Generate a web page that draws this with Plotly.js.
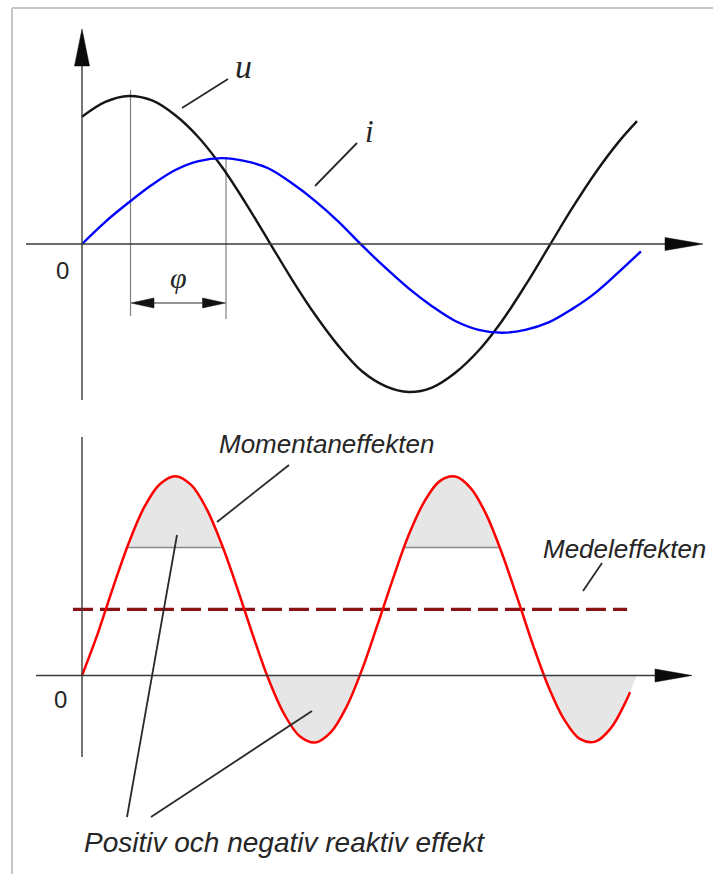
<!DOCTYPE html>
<html>
<head>
<meta charset="utf-8">
<script src="https://cdn.plot.ly/plotly-3.0.1.min.js"></script>
<style>
  html, body { margin: 0; padding: 0; background: #ffffff; }
  #chart { width: 713px; height: 874px; }
</style>
</head>
<body>
<div id="chart"></div>
<script>
// ---------------- data ----------------
// phase angle (degrees of the voltage period) and voltage u
const tU = [0, 15, 30, 45, 60, 75, 90, 105, 120, 135, 150, 165, 180, 195, 210, 225, 240, 255, 270, 285, 300, 315, 330, 345, 356.8];
const uVals = [86, 96, 100, 97, 87, 72, 52, 28, 2, -24, -48, -69, -86, -96, -100, -97, -87, -72, -52, -28, -2, 24, 48, 69, 83];

// current i
const tI = [0, 15, 30, 45, 60, 75, 90, 105, 120, 135, 150, 165, 180, 195, 210, 225, 240, 255, 270, 285, 300, 315, 330, 345, 359.3];
const iVals = [0, 15, 28, 40, 50, 56, 58, 56, 51, 41, 29, 15, -1, -16, -30, -42, -52, -58, -60, -58, -53, -44, -33, -19, -5];

// instantaneous power p (Momentaneffekten)
const tP = [0, 10, 20, 30, 40, 50, 60, 70, 80, 90, 100, 110, 120, 130, 140, 150, 160, 170, 180, 190, 200, 210, 220, 230, 240, 250, 260, 270, 280, 290, 300, 310, 320, 330, 340, 350, 352.3];
const pVals = [0, 9.2, 19.6, 29.4, 37.4, 42.5, 44.3, 42.4, 37.1, 29.0, 19.2, 8.8, -0.9, -8.6, -13.5, -14.9, -12.6, -7.0, 1.3, 11.3, 21.6, 31.2, 38.6, 43.2, 44.2, 41.6, 35.7, 27.1, 17.1, 6.7, -2.6, -9.8, -14.1, -14.7, -11.7, -5.5, -3.7];

// mean power (Medeleffekten)
const pMean = 14.7;
const meanSpan = [-5.8, 350.4];

// zero crossings of p and the shaded caps of the positive lobes
const pZeroCrossings = [0, 119.0, 178.6, 297.0, 356.6];
const capLevel = 28.44;
const capStarts = [29.0, 206.4];
const capEnds = [90.6, 268.0];

// ---------------- geometry helpers (pixel position -> axis units) ----------------
const PXT = 560 / 360, X0 = 82;
const TOP_ZERO = 244, TOP_SCALE = 1.48;
const BOT_ZERO = 675.5, BOT_SCALE = 4.5;
function tx(px) { return (px - X0) / PXT; }
function ty1(py) { return (TOP_ZERO - py) / TOP_SCALE; }
function ty2(py) { return (BOT_ZERO - py) / BOT_SCALE; }

const AXIS_COL = '#3a3a3a';
const LEAD_COL = '#2a2a2a';
const TEXT_COL = '#262626';
const FILL_COL = '#e6e6e6';

// ---------------- traces ----------------
const traces = [];

// top panel: u and i
traces.push({
  x: tU, y: uVals, xaxis: 'x', yaxis: 'y', type: 'scatter', mode: 'lines',
  line: { color: '#151515', width: 2.4, shape: 'spline' }, hoverinfo: 'skip'
});
traces.push({
  x: tI, y: iVals, xaxis: 'x', yaxis: 'y', type: 'scatter', mode: 'lines',
  line: { color: '#0000ff', width: 2.4, shape: 'spline' }, hoverinfo: 'skip'
});

// bottom panel: shaded negative lobes
[1, 3].forEach(function (k) {
  const z0 = pZeroCrossings[k], z1 = pZeroCrossings[k + 1];
  const xs = [z0], ys = [0];
  tP.forEach(function (t, j) { if (t > z0 && t < z1) { xs.push(t); ys.push(pVals[j]); } });
  xs.push(z1); ys.push(0);
  traces.push({
    x: xs, y: ys, xaxis: 'x2', yaxis: 'y2', type: 'scatter', mode: 'lines',
    line: { width: 0, shape: 'spline' }, fill: 'tozeroy', fillcolor: FILL_COL, hoverinfo: 'skip'
  });
});

// shaded caps of positive lobes
capStarts.forEach(function (s, k) {
  const e = capEnds[k];
  traces.push({
    x: [s, e], y: [capLevel, capLevel], xaxis: 'x2', yaxis: 'y2', type: 'scatter', mode: 'lines',
    line: { width: 0, color: 'rgba(0,0,0,0)' }, hoverinfo: 'skip'
  });
  const xs = [s], ys = [capLevel];
  tP.forEach(function (t, j) { if (t > s && t < e) { xs.push(t); ys.push(pVals[j]); } });
  xs.push(e); ys.push(capLevel);
  traces.push({
    x: xs, y: ys, xaxis: 'x2', yaxis: 'y2', type: 'scatter', mode: 'lines',
    line: { width: 0, shape: 'spline' }, fill: 'tonexty', fillcolor: FILL_COL, hoverinfo: 'skip'
  });
});

// cap lines
capStarts.forEach(function (s, k) {
  traces.push({
    x: [s, capEnds[k]], y: [capLevel, capLevel], xaxis: 'x2', yaxis: 'y2', type: 'scatter', mode: 'lines',
    line: { color: '#8a8a8a', width: 1.6 }, hoverinfo: 'skip'
  });
});

// mean power dashed line
traces.push({
  x: meanSpan, y: [pMean, pMean], xaxis: 'x2', yaxis: 'y2', type: 'scatter', mode: 'lines',
  line: { color: '#8b1212', width: 3.4, dash: '20px,7px' }, hoverinfo: 'skip'
});

// instantaneous power
traces.push({
  x: tP, y: pVals, xaxis: 'x2', yaxis: 'y2', type: 'scatter', mode: 'lines',
  line: { color: '#ff0000', width: 2.5, shape: 'spline' }, hoverinfo: 'skip'
});

// ---------------- decorations ----------------
function line1(x0, y0, x1, y1, color, width, layer) {
  return { type: 'line', xref: 'x', yref: 'y', x0: tx(x0), y0: ty1(y0), x1: tx(x1), y1: ty1(y1),
           line: { color: color, width: width }, layer: layer || 'above' };
}
function line2(x0, y0, x1, y1, color, width, layer) {
  return { type: 'line', xref: 'x2', yref: 'y2', x0: tx(x0), y0: ty2(y0), x1: tx(x1), y1: ty2(y1),
           line: { color: color, width: width }, layer: layer || 'above' };
}
function tri(which, pts, color) {
  const fy = which === 1 ? ty1 : ty2;
  const p = pts.map(function (q, i) { return (i === 0 ? 'M ' : 'L ') + tx(q[0]) + ',' + fy(q[1]); }).join(' ') + ' Z';
  return { type: 'path', xref: which === 1 ? 'x' : 'x2', yref: which === 1 ? 'y' : 'y2', path: p,
           fillcolor: color, line: { color: color, width: 0.5 }, layer: 'above' };
}

const shapes = [
  // picture frame (top and left edges)
  { type: 'line', xref: 'paper', yref: 'paper', x0: 12 / 713, x1: 1, y0: 1 - 8 / 874, y1: 1 - 8 / 874,
    line: { color: '#c6c6c6', width: 2 } },
  { type: 'line', xref: 'paper', yref: 'paper', x0: 12 / 713, x1: 12 / 713, y0: 0, y1: 1 - 8 / 874,
    line: { color: '#c6c6c6', width: 2 } },

  // top panel guide lines and phase dimension
  line1(130.5, 90, 130.5, 316, '#808080', 1.2, 'below'),
  line1(226, 157, 226, 319, '#808080', 1.2, 'below'),
  line1(150, 303, 206, 303, '#707070', 1.4),
  tri(1, [[131, 303], [154, 298], [154, 308]], '#111111'),
  tri(1, [[225.5, 303], [202.5, 298], [202.5, 308]], '#111111'),

  // top panel axes
  line1(82, 400, 82, 60, AXIS_COL, 1.4),
  tri(1, [[82, 29], [74.5, 66], [89.5, 66]], '#0a0a0a'),
  line1(26, 244, 668, 244, AXIS_COL, 1.4),
  tri(1, [[703, 244], [665, 237.5], [665, 250.5]], '#0a0a0a'),

  // top panel leaders
  line1(182, 108, 228, 79, LEAD_COL, 1.8),
  line1(315, 186, 357, 143, LEAD_COL, 1.8),

  // bottom panel axes
  line2(82, 427, 82, 757, AXIS_COL, 1.4),
  line2(36, 675.5, 660, 675.5, AXIS_COL, 1.4),
  tri(2, [[692, 675.5], [655, 669], [655, 682]], '#0a0a0a'),

  // bottom panel leaders
  line2(217, 522, 289, 465, LEAD_COL, 1.8),
  line2(583, 591, 602, 563, LEAD_COL, 1.8),
  line2(177, 535, 127, 817, LEAD_COL, 1.8),
  line2(312, 711, 151, 817, LEAD_COL, 1.8)
];

function ann(which, px, py, text, family, size) {
  return {
    xref: which === 1 ? 'x' : 'x2', yref: which === 1 ? 'y' : 'y2',
    x: tx(px), y: which === 1 ? ty1(py) : ty2(py),
    text: text, showarrow: false, xanchor: 'center', yanchor: 'middle',
    font: { family: family, size: size, color: TEXT_COL }
  };
}
const SERIF = 'Liberation Serif, DejaVu Serif, serif';
const SANS = 'Liberation Sans, Arial, sans-serif';
const NARROW = 'Liberation Sans Narrow, Liberation Sans, sans-serif';

const annotations = [
  ann(1, 62, 270, '0', NARROW, 24),
  ann(1, 243, 66, '<i>u</i>', SERIF, 34),
  ann(1, 369, 131, '<i>i</i>', SERIF, 31),
  ann(1, 178, 277, '<i>φ</i>', SERIF, 30),
  ann(2, 60, 699, '0', NARROW, 24),
  ann(2, 326, 444, '<i>Momentaneffekten</i>', SANS, 26),
  ann(2, 624, 549, '<i>Medeleffekten</i>', SANS, 26),
  ann(2, 284, 842, '<i>Positiv och negativ reaktiv effekt</i>', SANS, 28)
];

const layout = {
  width: 713, height: 874,
  margin: { l: 0, r: 0, t: 0, b: 0, pad: 0 },
  paper_bgcolor: '#ffffff', plot_bgcolor: 'rgba(0,0,0,0)',
  showlegend: false,
  xaxis: { domain: [0, 1], range: [tx(0), tx(713)], visible: false, anchor: 'y', fixedrange: true },
  yaxis: { domain: [0.5, 1], range: [ty1(437), ty1(0)], visible: false, anchor: 'x', fixedrange: true },
  xaxis2: { domain: [0, 1], range: [tx(0), tx(713)], visible: false, anchor: 'y2', fixedrange: true },
  yaxis2: { domain: [0, 0.5], range: [ty2(874), ty2(437)], visible: false, anchor: 'x2', fixedrange: true },
  shapes: shapes,
  annotations: annotations
};

Plotly.newPlot('chart', traces, layout, { staticPlot: true, displayModeBar: false });
</script>
</body>
</html>
